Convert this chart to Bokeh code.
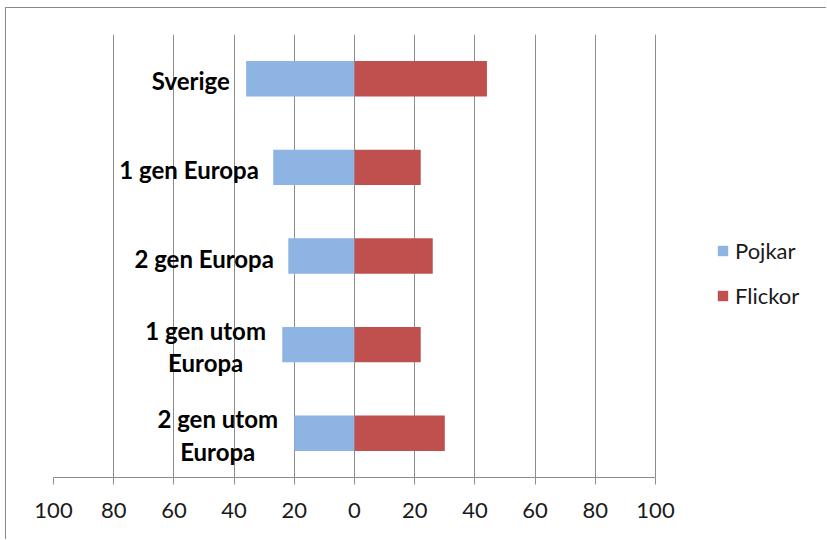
from bokeh.plotting import figure
from bokeh.models import Range1d, FactorRange, ColumnDataSource, Legend, LegendItem, FixedTicker
from bokeh.core.properties import value
from bokeh.embed import file_html
from bokeh.resources import INLINE

categories = ["Sverige", "1 gen Europa", "2 gen Europa", "1 gen utom\nEuropa", "2 gen utom\nEuropa"]
pojkar = [36, 27, 22, 24, 20]
flickor = [44, 22, 26, 22, 30]
tick_values = [-100, -80, -60, -40, -20, 0, 20, 40, 60, 80, 100]
tick_labels = ["100", "80", "60", "40", "20", "0", "20", "40", "60", "80", "100"]

BLUE = "#8EB4E3"
RED = "#C0504D"
GRID = "#8C8C8C"
LABEL_FONT = "Lato"
FS = 24

W, H = 821, 532
ML, MR, MT, MB = 47, 5, 26, 63
frame_w = W - ML - MR
axis_w = 602  # pixel width of the -100..100 span
x_end = -100 + 200 * frame_w / axis_w

p = figure(width=W, height=H, output_backend="svg", toolbar_location=None,
           x_range=Range1d(-100, x_end), y_range=FactorRange(factors=list(reversed(categories))),
           min_border_left=ML, min_border_right=MR, min_border_top=MT, min_border_bottom=MB,
           styles={"border-left": "1px solid #8a8a8a", "border-top": "1px solid #8a8a8a",
                   "margin-left": "5px", "margin-top": "7px"})
p.outline_line_color = None
p.yaxis.visible = False
p.ygrid.grid_line_color = None
p.xgrid.grid_line_color = GRID
p.xgrid.grid_line_width = 1
p.xaxis.ticker = FixedTicker(ticks=tick_values)
p.xgrid.ticker = FixedTicker(ticks=tick_values)
p.xaxis.bounds = (-100, 100)
p.xaxis.major_label_overrides = {v: l for v, l in zip(tick_values, tick_labels)}
p.xaxis.axis_line_color = GRID
p.xaxis.major_tick_line_color = GRID
p.xaxis.major_tick_in = 0
p.xaxis.major_tick_out = 7
p.xaxis.minor_tick_line_color = None
p.xaxis.major_label_text_font = LABEL_FONT
p.xaxis.major_label_text_font_size = "22px"
p.xaxis.major_label_text_color = "#1a1a1a"
p.xaxis.major_label_standoff = 18

src = ColumnDataSource(dict(cat=categories, neg=[-v for v in pojkar], pos=flickor))
r_p = p.hbar(y="cat", left="neg", right=0, height=0.4, source=src, fill_color=BLUE, line_color=None)
r_f = p.hbar(y="cat", left=0, right="pos", height=0.4, source=src, fill_color=RED, line_color=None)

# category labels: centered block placed left of each blue bar
gap = 15
offsets = []
for c in categories:
    lines = c.split("\n")
    longest = max(len(s) for s in lines)
    w = 0.48 * FS * longest
    extra = 4 if len(lines) > 1 else 0
    offsets.append(-(gap + w / 2 + extra))
src.data["xo"] = offsets
p.text(x="neg", y="cat", text="cat", source=src, x_offset="xo", y_offset=2, text_align="center",
       text_baseline="middle", text_font=value(LABEL_FONT), text_font_style="bold",
       text_font_size=f"{FS}px", text_color="#000000", text_line_height=1.12)

legend = Legend(items=[LegendItem(label="Pojkar", renderers=[r_p]),
                       LegendItem(label="Flickor", renderers=[r_f])],
                location=(663, 168), orientation="vertical",
                glyph_width=13, glyph_height=13, label_standoff=6, padding=0, margin=0,
                spacing=18, label_height=26, border_line_color=None, background_fill_alpha=0,
                label_text_font=LABEL_FONT, label_text_font_size="22px", label_text_color="#1a1a1a")
p.add_layout(legend, "center")

open("out.html", "w").write(file_html(p, INLINE))
